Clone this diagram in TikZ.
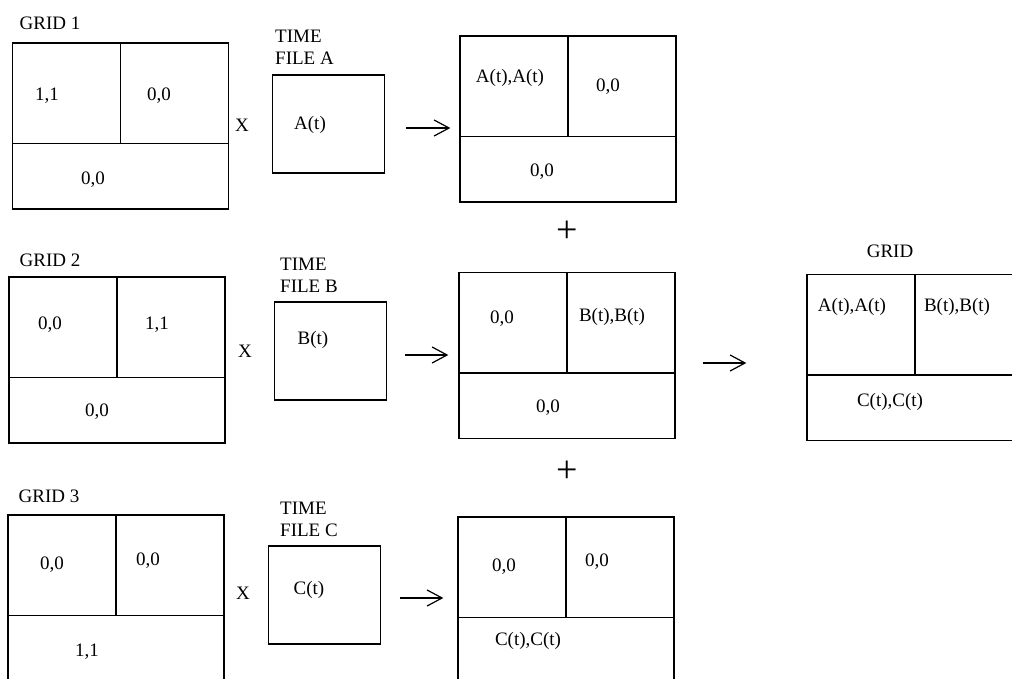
\documentclass[tikz,border=0pt]{standalone}
\usepackage{fontspec}
\setmainfont{Liberation Serif}
\usetikzlibrary{arrows.meta, positioning}

\begin{document}
\begin{tikzpicture}[
  x=1pt, y=-1pt,
  every node/.style={font=\fontsize{19}{22}\selectfont, inner sep=0pt, align=left},
  arrow/.style={-{Straight Barb[length=15pt,width=16pt]}, line width=1.2pt},
  gridbox/.style={draw, line width=1.3pt, minimum width=216pt, minimum height=166pt},
  timebox/.style={draw, line width=1.3pt, minimum width=112pt, minimum height=98pt},
  plus/.style={font=\fontsize{38}{38}\selectfont},
]
\clip (0,0) rectangle (1012,679);

% Grid boxes with their two dividers
\foreach \name/\cx/\cy in {g1/120.5/126, g2/117/360, g3/116/598, r1/568/119, r2/567/355.5, r3/566/600, fin/915/357.5}{
  \node[gridbox] (\name) at (\cx,\cy) {};
  \draw[line width=1.3pt] (\name.north) -- ++(0,101);
  \draw[line width=1.3pt] ([yshift=-101pt]\name.north west) -- ([yshift=-101pt]\name.north east);
}

% Grid labels
\node (lg1) at (50,23) {GRID 1};
\node (lg2) at (50,260) {GRID 2};
\node (lg3) at (49,496) {GRID 3};
\node (lfin) at (890,251) {GRID};

% Cell values, input grids
\node (g1a) at (47,96) {1,1};
\node (g1b) at (159,96) {0,0};
\node (g1c) at (93,180) {0,0};
\node (g2a) at (50,325) {0,0};
\node (g2b) at (157,325) {1,1};
\node (g2c) at (97,412) {0,0};
\node (g3a) at (52,565) {0,0};
\node (g3b) at (148,561) {0,0};
\node (g3c) at (87,652) {1,1};

% Multiply signs
\node (x1) at (242,125) {X};
\node (x2) at (245,351) {X};
\node (x3) at (243,593) {X};

% Time files
\node[timebox] (tA) at (328.5,124) {};
\node[timebox] (tB) at (330.5,351) {};
\node[timebox] (tC) at (324.5,595) {};
\node[anchor=west] (ltA) at (275,47) {TIME\\FILE A};
\node[anchor=west] (ltB) at (280,275) {TIME\\FILE B};
\node[anchor=west] (ltC) at (280,519) {TIME\\FILE C};
\node (tAv) at (310,125) {A(t)};
\node (tBv) at (313,340) {B(t)};
\node (tCv) at (309,590) {C(t)};

% Cell values, products
\node (r1a) at (510,78) {A(t),A(t)};
\node (r1b) at (608,87) {0,0};
\node (r1c) at (542,172) {0,0};
\node (r2a) at (502,319) {0,0};
\node (r2b) at (612,317) {B(t),B(t)};
\node (r2c) at (548,408) {0,0};
\node (r3a) at (504,567) {0,0};
\node (r3b) at (597,562) {0,0};
\node (r3c) at (528,641) {C(t),C(t)};

% Sum signs
\node[plus] (p1) at (567,232) {+};
\node[plus] (p2) at (567,472) {+};

% Cell values, result grid
\node (fa) at (852,307) {A(t),A(t)};
\node (fb) at (957,307) {B(t),B(t)};
\node (fc) at (890,402) {C(t),C(t)};

% Arrows
\draw[arrow, shorten <=21pt, shorten >=9pt] ([yshift=-4pt]tA.east) -- ([yshift=-4pt]tA.east -| r1.west);
\draw[arrow, shorten <=18pt, shorten >=10pt] ([yshift=-4pt]tB.east) -- ([yshift=-4pt]tB.east -| r2.west);
\draw[arrow, shorten <=19pt, shorten >=14pt] ([yshift=-3pt]tC.east) -- ([yshift=-3pt]tC.east -| r3.west);
\draw[arrow, shorten <=27pt, shorten >=60pt] ([yshift=-7.5pt]r2.east) -- ([yshift=-7.5pt]r2.east -| fin.west);

\end{tikzpicture}
\end{document}
